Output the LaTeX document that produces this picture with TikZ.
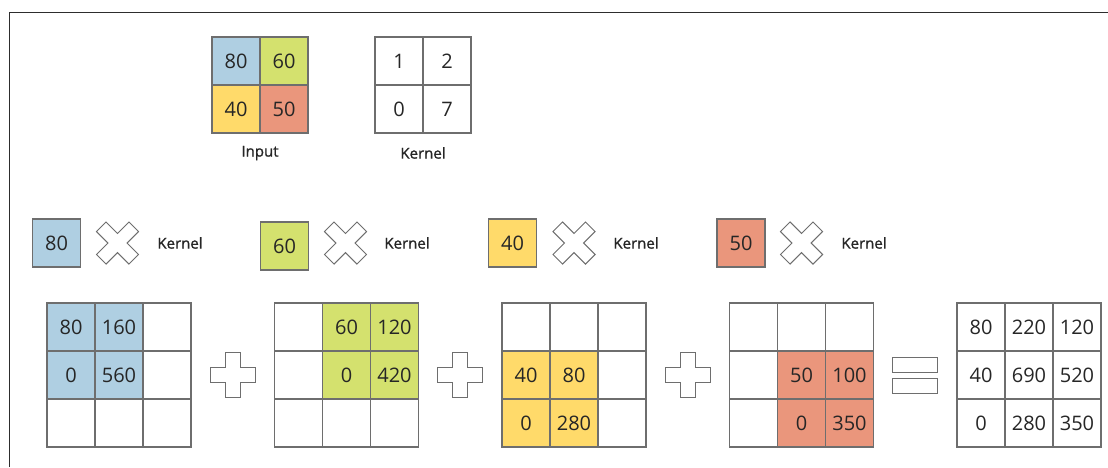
\documentclass[tikz,border=0pt]{standalone}
\usepackage{fontspec}
\setmainfont{Open Sans}
\newfontfamily\lblfont[FakeBold=1.2]{Open Sans}
\definecolor{cblue}{RGB}{175,207,226}
\definecolor{cgreen}{RGB}{212,225,110}
\definecolor{cyellow}{RGB}{255,218,106}
\definecolor{corange}{RGB}{234,150,124}
\definecolor{gl}{RGB}{110,110,110}
\definecolor{frame}{RGB}{45,45,45}
\tikzset{
  cell/.style={draw=gl, line width=1.2pt, minimum size=48pt, inner sep=0pt, outer sep=0pt, font=\fontsize{20}{20}\selectfont, text=black!85},
  lbl/.style={inner sep=0pt, font=\lblfont\fontsize{15}{15}\selectfont, text=black!85},
  sym/.style={draw=gl, fill=white, line width=1pt, line join=miter}
}
\begin{document}
\begin{tikzpicture}[x=1pt,y=-1pt]
\useasboundingbox (0,0) rectangle (1108,467);
\draw[frame, line width=1pt] (9.5,467) -- (9.5,12) -- (1108,12);
% input
\node[cell, fill=cblue] (in00) at (236,61) {80};
\node[cell, fill=cgreen] (in10) at (284,61) {60};
\node[cell, fill=cyellow] (in01) at (236,109) {40};
\node[cell, fill=corange] (in11) at (284,109) {50};
\node[lbl] (inlbl) at (260,153) {Input};
% kernel
\node[cell, fill=white] (k00) at (399,61) {1};
\node[cell, fill=white] (k10) at (447,61) {2};
\node[cell, fill=white] (k01) at (399,109) {0};
\node[cell, fill=white] (k11) at (447,109) {7};
\node[lbl] (klbl) at (423,153) {Kernel};
% row 2
\node[cell, fill=cblue] (s1) at (56.5,243) {80};
\node[cell, fill=cgreen] (s2) at (284.5,246) {60};
\node[cell, fill=cyellow] (s3) at (512.5,243) {40};
\node[cell, fill=corange] (s4) at (741,243) {50};
\foreach \n/\x in {1/117.5,2/345.5,3/574,4/801.5}{
  \draw[sym, shift={(\x,243)}, rotate=45]
    (-6.75,-23) -- (6.75,-23) -- (6.75,-6.75) -- (23,-6.75) -- (23,6.75) -- (6.75,6.75)
    -- (6.75,23) -- (-6.75,23) -- (-6.75,6.75) -- (-23,6.75) -- (-23,-6.75) -- (-6.75,-6.75) -- cycle;
}
\node[lbl] (kl1) at (180,243) {Kernel};
\node[lbl] (kl2) at (407,243) {Kernel};
\node[lbl] (kl3) at (636,243) {Kernel};
\node[lbl] (kl4) at (864,243) {Kernel};
% grids
\foreach \g/\i/\j/\c/\t in {
 1/0/0/cblue/80, 1/1/0/cblue/160, 1/2/0/white/, 1/0/1/cblue/0, 1/1/1/cblue/560, 1/2/1/white/, 1/0/2/white/, 1/1/2/white/, 1/2/2/white/,
 2/0/0/white/, 2/1/0/cgreen/60, 2/2/0/cgreen/120, 2/0/1/white/, 2/1/1/cgreen/0, 2/2/1/cgreen/420, 2/0/2/white/, 2/1/2/white/, 2/2/2/white/,
 3/0/0/white/, 3/1/0/white/, 3/2/0/white/, 3/0/1/cyellow/40, 3/1/1/cyellow/80, 3/2/1/white/, 3/0/2/cyellow/0, 3/1/2/cyellow/280, 3/2/2/white/,
 4/0/0/white/, 4/1/0/white/, 4/2/0/white/, 4/0/1/white/, 4/1/1/corange/50, 4/2/1/corange/100, 4/0/2/white/, 4/1/2/corange/0, 4/2/2/corange/350,
 5/0/0/white/80, 5/1/0/white/220, 5/2/0/white/120, 5/0/1/white/40, 5/1/1/white/690, 5/2/1/white/520, 5/0/2/white/0, 5/1/2/white/280, 5/2/2/white/350}{
  \node[cell, fill=\c] (g\g-\i-\j) at ({47+227.5*(\g-1)+24+48*\i},{327+48*\j}) {\t};
}
% plus signs
\foreach \n/\x in {1/232.5,2/459.5,3/688}{
  \draw[sym, shift={(\x,375)}]
    (-7.5,-22.5) -- (7.5,-22.5) -- (7.5,-7.5) -- (22.5,-7.5) -- (22.5,7.5) -- (7.5,7.5)
    -- (7.5,22.5) -- (-7.5,22.5) -- (-7.5,7.5) -- (-22.5,7.5) -- (-22.5,-7.5) -- (-7.5,-7.5) -- cycle;
}
% equals
\draw[sym] (892.5,357.5) rectangle (937.5,372);
\draw[sym] (892.5,378.5) rectangle (937.5,393);
\end{tikzpicture}
\end{document}
